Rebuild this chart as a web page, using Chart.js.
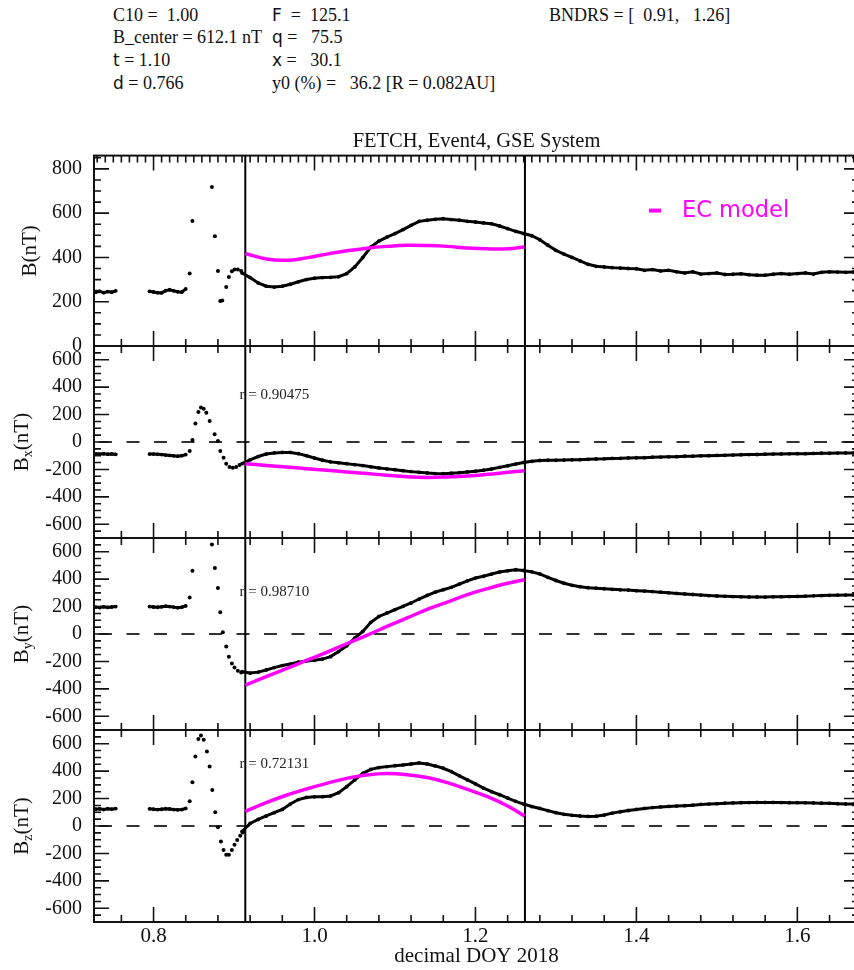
<!DOCTYPE html>
<html>
<head>
<meta charset="utf-8">
<script src="https://cdn.jsdelivr.net/npm/chart.js@4.4.1/dist/chart.umd.min.js"></script>
<style>
  body { margin: 0; background: #fff; }
  #page { position: relative; width: 854px; height: 970px; overflow: hidden; background: #fff; }
  .h { position: absolute; font: 18px "Liberation Serif", serif; white-space: pre; color: #111; line-height: 22px; }
  .s { font-family: "DejaVu Sans", sans-serif; font-size: 17px; }
  canvas { position: absolute; left: 0; }
</style>
</head>
<body>
<div id="page">
  <div class="h" style="left:113px;top:4px">C10 =  1.00</div>
  <div class="h" style="left:113px;top:26px">B_center = 612.1 nT</div>
  <div class="h" style="left:113px;top:49px"><span class="s">t</span> = 1.10</div>
  <div class="h" style="left:113px;top:72px"><span class="s">d</span> = 0.766</div>
  <div class="h" style="left:272px;top:4px"><span class="s">F</span>  =  125.1</div>
  <div class="h" style="left:272px;top:26px"><span class="s">q</span> =   75.5</div>
  <div class="h" style="left:272px;top:49px"><span class="s">x</span> =   30.1</div>
  <div class="h" style="left:272px;top:72px">y0 (%) =   36.2 [R = 0.082AU]</div>
  <div class="h" style="left:549px;top:4px">BNDRS = [  0.91,   1.26]</div>

  <canvas id="pB" width="863" height="237" style="top:121px"></canvas>
  <canvas id="pBx" width="863" height="216" style="top:334px"></canvas>
  <canvas id="pBy" width="863" height="216" style="top:526px"></canvas>
  <canvas id="pBz" width="863" height="252" style="top:718px"></canvas>
</div>
<script>
'use strict'

// observed field, dense stretches (null = data gap)
const tObs = [0.728, 0.733, 0.738, 0.743, 0.748, 0.753, 0.775,
    0.795, 0.800, 0.805, 0.810, 0.815, 0.820, 0.825, 0.830, 0.835, 0.840, 0.875,
    0.91, 0.92, 0.93, 0.94, 0.95, 0.96, 0.97, 0.98, 0.99, 1.00,
    1.01, 1.02, 1.03, 1.04, 1.05, 1.06, 1.07, 1.08, 1.09, 1.10,
    1.11, 1.12, 1.13, 1.14, 1.15, 1.16, 1.17, 1.18, 1.19, 1.20,
    1.21, 1.22, 1.23, 1.24, 1.25, 1.26, 1.27, 1.28, 1.29, 1.30,
    1.31, 1.32, 1.33, 1.34, 1.35, 1.36, 1.37, 1.38, 1.39, 1.40,
    1.41, 1.42, 1.43, 1.44, 1.45, 1.46, 1.47, 1.48, 1.49, 1.50,
    1.51, 1.52, 1.53, 1.54, 1.55, 1.56, 1.57, 1.58, 1.59, 1.60,
    1.61, 1.62, 1.63, 1.64, 1.65, 1.66, 1.67];

const bObs = [243, 247, 241, 246, 243, 249, null,
    247, 244, 241, 240, 250, 254, 249, 245, 243, 258, null,
    330, 309, 285, 270, 266, 270, 279, 290, 300, 306,
    309, 310, 313, 327, 357, 400, 447, 474, 492, 508,
    526, 545, 563, 568, 572, 575, 571, 568, 563, 560,
    556, 552, 542, 530, 518, 508, 498, 480, 455, 432,
    415, 400, 384, 369, 360, 357, 354, 352, 350, 349,
    342, 345, 339, 342, 335, 330, 335, 325, 327, 330,
    323, 324, 326, 322, 320, 320, 324, 327, 324, 327,
    330, 325, 333, 335, 334, 333, 334];

const bxObs = [-86, -88, -85, -89, -87, -90, null,
    -88, -88, -90, -92, -95, -98, -101, -103, -100, -92, null,
    -158, -130, -106, -88, -80, -76, -76, -85, -100, -117,
    -133, -145, -152, -158, -165, -172, -181, -189, -196, -202,
    -209, -216, -221, -226, -230, -231, -227, -224, -218, -213,
    -206, -197, -185, -173, -161, -149, -141, -135, -133, -133,
    -132, -130, -129, -126, -124, -123, -120, -119, -116, -115,
    -114, -111, -110, -108, -107, -104, -103, -101, -100, -98,
    -97, -95, -93, -92, -91, -89, -88, -87, -86, -85,
    -85, -83, -82, -82, -81, -80, -80];

const byObs = [196, 193, 198, 194, 197, 200, null,
    200, 197, 195, 198, 203, 200, 196, 192, 195, 205, null,
    -275, -285, -278, -262, -245, -230, -219, -205, -196, -192,
    -183, -165, -128, -86, -30, 19, 85, 128, 153, 178,
    202, 226, 255, 281, 305, 323, 340, 364, 388, 408,
    421, 437, 452, 461, 469, 463, 453, 438, 413, 390,
    370, 355, 345, 338, 334, 330, 326, 322, 320, 316,
    313, 309, 305, 300, 296, 292, 288, 284, 280, 277,
    275, 273, 271, 270, 270, 269, 271, 272, 273, 274,
    276, 278, 280, 282, 283, 284, 285];

const bzObs = [122, 125, 120, 126, 123, 127, null,
    125, 122, 120, 122, 126, 124, 120, 118, 120, 128, null,
    -40, 19, 48, 73, 97, 121, 160, 193, 208, 213,
    214, 219, 243, 287, 336, 384, 413, 426, 433, 440,
    445, 452, 460, 452, 438, 421, 397, 366, 336, 307,
    276, 250, 228, 204, 180, 160, 142, 128, 112, 97,
    85, 78, 73, 70, 71, 80, 94, 104, 113, 121,
    128, 134, 139, 143, 145, 148, 152, 157, 160, 163,
    166, 168, 170, 171, 172, 172, 172, 171, 170, 170,
    169, 168, 166, 165, 163, 161, 160];

// sheath, sparse samples
const tShB = [0.8449, 0.8483, 0.8725, 0.8762, 0.8800, 0.8829, 0.8854, 0.8903, 0.8936, 0.8973, 0.9006, 0.9047, 0.9089];
const bSh = [327, 565, 718, 496, 339, 203, 206, 267, 312, 338, 345, 345, 339];

const tShBx = [0.8449, 0.8483, 0.8520, 0.8557, 0.8589, 0.8623, 0.8656, 0.8697, 0.8759, 0.8800, 0.8829, 0.8870, 0.8903, 0.8944, 0.8985, 0.9027, 0.9068];
const bxSh = [-66, 15, 134, 219, 251, 243, 214, 153, 56, 7, -66, -114, -158, -182, -187, -182, -168];

const tShBy = [0.8449, 0.8483, 0.8725, 0.8762, 0.8800, 0.8829, 0.8861, 0.8903, 0.8936, 0.8973, 0.9006, 0.9047, 0.9089];
const bySh = [267, 462, 652, 482, 336, 158, 12, -92, -166, -215, -244, -268, -280];

const tShBz = [0.8449, 0.8483, 0.8520, 0.8557, 0.8589, 0.8623, 0.8663, 0.8697, 0.8730, 0.8767, 0.8800, 0.8837, 0.8870, 0.8903, 0.8936, 0.8973, 0.9006, 0.9039, 0.9077, 0.9109];
const bzSh = [180, 319, 506, 635, 659, 628, 543, 433, 263, 100, -10, -113, -175, -210, -210, -175, -136, -102, -71, -47];

// EC model fit
const tModel = [0.914, 0.94, 0.965, 0.99, 1.015, 1.04, 1.065, 1.09, 1.115, 1.14, 1.165, 1.19, 1.215, 1.24, 1.261];
const bMod = [418, 393, 387, 398, 415, 430, 442, 450, 455, 454, 450, 443, 439, 439, 447];
const bxMod = [-158, -171, -182, -195, -206, -218, -230, -242, -253, -258, -255, -248, -236, -221, -209];
const byMod = [-372, -311, -253, -193, -134, -71, -10, 55, 117, 180, 233, 287, 331, 370, 396];
const bzMod = [107, 170, 224, 270, 311, 347, 372, 382, 374, 353, 316, 267, 214, 146, 73];

const boundaries = [0.914, 1.2615];
const xMin = 0.726, xMax = 1.6766;
const xLabels = [0.8, 1.0, 1.2, 1.4, 1.6];
const yTicksB = [0, 200, 400, 600, 800];
const yTicksC = [-600, -400, -200, 0, 200, 400, 600];
const corr = ['0.90475', '0.98710', '0.72131'];

const SERIF = '"Liberation Serif", "Times New Roman", serif';
Chart.defaults.font.family = SERIF;
Chart.defaults.color = '#111';

function pts(t, v) {
    return t.map((x, i) => ({x: x, y: v[i]}));
}

function drawYTitle(ctx, cx, cy, sub) {
    ctx.save();
    ctx.translate(cx, cy);
    ctx.rotate(-Math.PI / 2);
    ctx.fillStyle = '#111';
    ctx.textBaseline = 'alphabetic';
    ctx.font = '21px ' + SERIF;
    const wB = ctx.measureText('B').width;
    const wR = ctx.measureText('(nT)').width;
    ctx.font = '14px ' + SERIF;
    const wS = sub ? ctx.measureText(sub).width : 0;
    let xx = -(wB + wS + wR) / 2;
    ctx.font = '21px ' + SERIF;
    ctx.fillText('B', xx, 0);
    xx += wB;
    if (sub) {
        ctx.font = '14px ' + SERIF;
        ctx.fillText(sub, xx, 4);
        xx += wS;
    }
    ctx.font = '21px ' + SERIF;
    ctx.fillText('(nT)', xx, 0);
    ctx.restore();
}

const panelFrame = {
    id: 'panelFrame',
    beforeDatasetsDraw(chart, args, o) {
        const {ctx, chartArea: a, scales: {x, y}} = chart;
        ctx.save();
        if (o.zero) {
            const py = y.getPixelForValue(0);
            ctx.strokeStyle = '#333';
            ctx.lineWidth = 2;
            ctx.setLineDash([13, 14.5]);
            ctx.lineDashOffset = -5;
            ctx.beginPath();
            ctx.moveTo(a.left, py);
            ctx.lineTo(a.right, py);
            ctx.stroke();
            ctx.setLineDash([]);
        }
        ctx.strokeStyle = '#000';
        ctx.lineWidth = 2;
        boundaries.forEach(t => {
            const px = x.getPixelForValue(t);
            ctx.beginPath();
            ctx.moveTo(px, a.top);
            ctx.lineTo(px, a.bottom);
            ctx.stroke();
        });
        ctx.restore();
    },
    afterDatasetsDraw(chart, args, o) {
        const {ctx, chartArea: a, scales: {x, y}} = chart;
        ctx.save();
        ctx.strokeStyle = '#111';
        ctx.lineWidth = 2;
        ctx.strokeRect(a.left, a.top, a.right - a.left, a.bottom - a.top);

        ctx.lineWidth = 1.6;
        ctx.beginPath();
        // x ticks, inward
        const xt = (edge, dir, step) => {
            const per = Math.round(0.2 / step);
            for (let k = Math.ceil(x.min / step); k * step <= x.max; k++) {
                const px = x.getPixelForValue(k * step);
                const len = k % per === 0 ? 15 : 7;
                ctx.moveTo(px, edge);
                ctx.lineTo(px, edge + dir * len);
            }
        };
        xt(a.top, 1, o.topStep);
        xt(a.bottom, -1, 0.04);
        // y ticks, both sides
        for (let k = Math.ceil(y.min / 50); k * 50 <= y.max; k++) {
            const py = y.getPixelForValue(k * 50);
            const len = k % 4 === 0 ? 15 : 7;
            ctx.moveTo(a.left, py);
            ctx.lineTo(a.left + len, py);
            ctx.moveTo(a.right, py);
            ctx.lineTo(a.right - len, py);
        }
        ctx.stroke();

        if (o.corr) {
            ctx.fillStyle = '#222';
            ctx.font = '15px ' + SERIF;
            ctx.textBaseline = 'middle';
            ctx.fillText('r = ' + o.corr[0], x.getPixelForValue(0.9068), y.getPixelForValue(o.corr[1]));
        }
        if (o.legend) {
            ctx.strokeStyle = '#ff00ff';
            ctx.lineWidth = 4;
            ctx.beginPath();
            ctx.moveTo(a.right - 210, a.top + 55);
            ctx.lineTo(a.right - 198, a.top + 55);
            ctx.stroke();
            ctx.fillStyle = '#ff00ff';
            ctx.font = '22.5px "DejaVu Sans", sans-serif';
            ctx.textBaseline = 'middle';
            ctx.fillText('EC model', a.right - 177, a.top + 56);
        }
        ctx.restore();
        drawYTitle(ctx, o.titleX, (a.top + a.bottom) / 2, o.sub);
    }
};

// keep the plot frame exactly where the layout padding puts it
function noScalePadding(s) {
    s.paddingTop = 0;
    s.paddingBottom = 0;
    s.paddingLeft = 0;
    s.paddingRight = 0;
}

function makePanel(id, p) {
    const datasets = [
        {
            data: pts(tModel, p.model),
            borderColor: '#ff00ff',
            borderWidth: 3.5,
            pointRadius: 0,
            tension: 0.4
        },
        {
            data: pts(tObs, p.obs),
            borderColor: '#000',
            backgroundColor: '#000',
            borderWidth: 3,
            pointRadius: 1.9,
            pointBorderWidth: 0,
            spanGaps: false
        },
        {
            data: pts(p.tSh, p.sh),
            showLine: false,
            backgroundColor: '#000',
            pointRadius: 2,
            pointBorderWidth: 0
        }
    ];
    const xAxis = {
        type: 'linear',
        min: xMin,
        max: xMax,
        display: p.bottom ? true : false,
        grid: {display: false, drawTicks: false},
        border: {display: false},
        afterFit: s => { noScalePadding(s); if (p.bottom) s.height = 48; }
    };
    if (p.bottom) {
        xAxis.afterBuildTicks = s => { s.ticks = xLabels.map(v => ({value: v})); };
        xAxis.ticks = {callback: v => v.toFixed(1), font: {size: 21}, padding: 2, maxRotation: 0, autoSkip: false, color: '#111'};
        xAxis.title = {display: true, text: 'decimal DOY 2018', font: {size: 21}, padding: {top: 0, bottom: 1}, color: '#111'};
    }
    return new Chart(document.getElementById(id), {
        type: 'line',
        data: {datasets: datasets},
        options: {
            responsive: false,
            animation: false,
            devicePixelRatio: 1,
            layout: {padding: p.pad},
            scales: {
                x: xAxis,
                y: {
                    min: p.yMin,
                    max: p.yMax,
                    afterBuildTicks: s => { s.ticks = p.yTicks.map(v => ({value: v})); },
                    afterFit: s => { s.width = 94; noScalePadding(s); },
                    grid: {display: false, drawTicks: false},
                    border: {display: false},
                    ticks: {padding: 12, font: {size: 20}, color: '#111'}
                }
            },
            plugins: {
                legend: {display: false},
                tooltip: {enabled: false},
                title: p.title ? {
                    display: true,
                    text: p.title,
                    fullSize: false,
                    font: {size: 20.5, weight: 'normal'},
                    color: '#111',
                    padding: {top: 8, bottom: 2}
                } : {display: false},
                panelFrame: {
                    zero: p.zero,
                    topStep: p.topStep,
                    corr: p.corr,
                    legend: p.legend,
                    sub: p.sub,
                    titleX: p.titleX
                }
            }
        },
        plugins: [panelFrame]
    });
}

makePanel('pB', {
    obs: bObs, tSh: tShB, sh: bSh, model: bMod,
    yMin: 0, yMax: 860, yTicks: yTicksB,
    pad: {top: 0, bottom: 12, left: 0, right: 1},
    title: 'FETCH, Event4, GSE System',
    topStep: 0.01, zero: false, legend: true, sub: '', titleX: 36
});
makePanel('pBx', {
    obs: bxObs, tSh: tShBx, sh: bxSh, model: bxMod,
    yMin: -700, yMax: 700, yTicks: yTicksC,
    pad: {top: 12, bottom: 12, left: 0, right: 1},
    topStep: 0.04, zero: true, corr: [corr[0], 340], sub: 'x', titleX: 27.5
});
makePanel('pBy', {
    obs: byObs, tSh: tShBy, sh: bySh, model: byMod,
    yMin: -700, yMax: 700, yTicks: yTicksC,
    pad: {top: 12, bottom: 12, left: 0, right: 1},
    topStep: 0.04, zero: true, corr: [corr[1], 309], sub: 'y', titleX: 27.5
});
makePanel('pBz', {
    obs: bzObs, tSh: tShBz, sh: bzSh, model: bzMod,
    yMin: -700, yMax: 700, yTicks: yTicksC,
    pad: {top: 12, bottom: 0, left: 0, right: 1},
    topStep: 0.04, zero: true, corr: [corr[2], 453], sub: 'z', titleX: 27.5, bottom: true
});
</script>
</body>
</html>
